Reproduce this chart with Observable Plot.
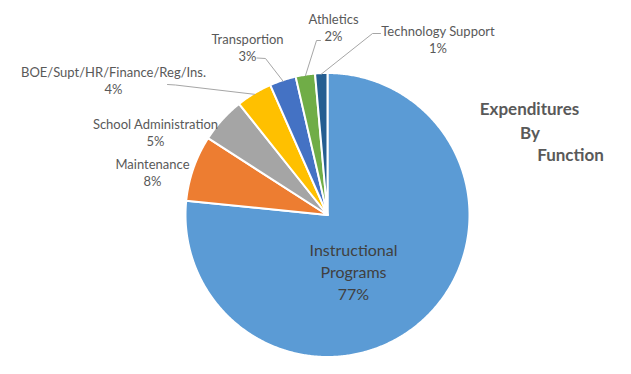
<!DOCTYPE html>
<html><head><meta charset="utf-8">
<script src="https://cdn.jsdelivr.net/npm/d3@7"></script>
<script src="https://cdn.jsdelivr.net/npm/@observablehq/plot@0.6"></script>
<style>body{margin:0;background:#fff}#chart svg{display:block}</style>
</head><body><div id="chart"></div>
<script>
// ---- data ----
const categories = ["Instructional Programs", "Maintenance", "School Administration", "BOE/Supt/HR/Finance/Reg/Ins.", "Transportion", "Athletics", "Technology Support"];
const shares = [76.6, 7.5, 5.2, 4.1, 3.0, 2.2, 1.4];
const colors = ["#5B9BD5", "#ED7D31", "#A5A5A5", "#FFC000", "#4472C4", "#70AD47", "#255E91"];
const titleLines = ["Expenditures", "By", "Function"];

// ---- layout (pixels) ----
const W = 631, H = 374, CX = 327, CY = 214.5, R = 142;
const labelLayout = [
  {x: 353, y: 270.5, inside: true},
  {x: 152, y: 171.7},
  {x: 155, y: 131.7},
  {x: 113, y: 80, leader: [[54, 4], [62, 4.5]]},
  {x: 247, y: 46.7, leader: [[9.5, 10.8], [18, 11.3]]},
  {x: 333, y: 26.5, leader: [[-13, 13.5], [-17, 13.5]]},
  {x: 437.5, y: 38.7, leader: [[-57.5, -5.7], [-65.5, -5.7]]}
];
const titleLayout = [[529, 109.3], [529.5, 133.3], [570, 155]];

// ---- geometry from data ----
const arcs = d3.pie().sort(null).value(d => d)(shares);
const slicePts = [];
arcs.forEach((a, i) => {
  const n = Math.max(2, Math.ceil((a.endAngle - a.startAngle) / (Math.PI / 360)));
  slicePts.push({cat: categories[i], x: CX, y: CY});
  for (let k = 0; k <= n; k++) {
    const t = a.startAngle + (a.endAngle - a.startAngle) * k / n;
    slicePts.push({cat: categories[i], x: CX + R * Math.sin(t), y: CY - R * Math.cos(t)});
  }
});
const leaderPts = [];
arcs.forEach((a, i) => {
  const L = labelLayout[i];
  if (!L.leader) return;
  const m = (a.startAngle + a.endAngle) / 2;
  L.leader.forEach(([dx, dy]) => leaderPts.push({cat: categories[i], x: L.x + dx, y: L.y + dy}));
  leaderPts.push({cat: categories[i], x: CX + (R - 1) * Math.sin(m), y: CY - (R - 1) * Math.cos(m)});
});
const labels = categories.map((c, i) => ({
  text: (labelLayout[i].inside ? c.replace(" ", "\n") : c) + "\n" + Math.round(shares[i]) + "%",
  x: labelLayout[i].x, y: labelLayout[i].y, inside: !!labelLayout[i].inside
}));
const titles = titleLines.map((t, i) => ({text: t, x: titleLayout[i][0], y: titleLayout[i][1]}));

const chart = Plot.plot({
  width: W, height: H, margin: 0,
  style: {fontFamily: "Lato, sans-serif", background: "#fff"},
  x: {domain: [0, W], range: [0, W], axis: null},
  y: {domain: [0, H], range: [0, H], axis: null},
  color: {domain: categories, range: colors},
  marks: [
    Plot.line(slicePts, {x: "x", y: "y", z: "cat", fill: "cat", stroke: "white", strokeWidth: 2, curve: "linear-closed", strokeLinejoin: "round"}),
    Plot.line(leaderPts, {x: "x", y: "y", z: "cat", stroke: "#A6A6A6", strokeWidth: 1}),
    Plot.text(labels.filter(d => !d.inside), {x: "x", y: "y", text: "text", fill: "#595959", fontSize: 13, lineHeight: 1.3}),
    Plot.text(labels.filter(d => d.inside), {x: "x", y: "y", text: "text", fill: "#404040", fontSize: 16, lineHeight: 1.38}),
    Plot.text(titles, {x: "x", y: "y", text: "text", fill: "#595959", fontSize: 17, fontWeight: "bold"})
  ]
});
document.getElementById("chart").append(chart);
</script>
</body></html>
